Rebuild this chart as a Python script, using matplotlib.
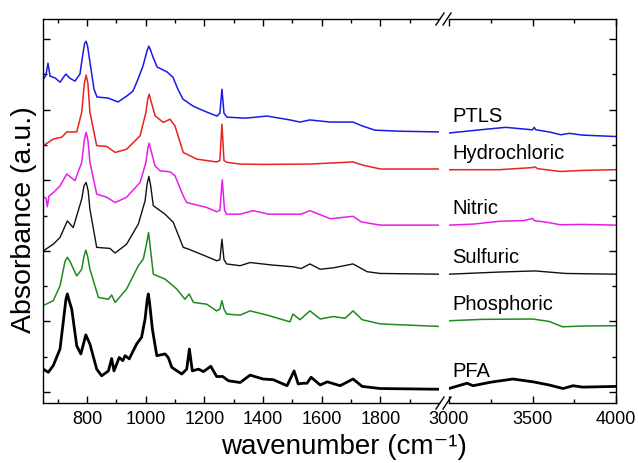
import numpy as np
import matplotlib
matplotlib.use("Agg")
from matplotlib import pyplot as plt
from matplotlib.lines import Line2D

plt.rcParams['font.family'] = ['Liberation Sans', 'DejaVu Sans']

# names / colours, bottom to top
names = ['PFA', 'Phosphoric', 'Sulfuric', 'Nitric', 'Hydrochloric', 'PTLS']
colors = ['black', '#1f8a1f', '#111111', '#e81ee8', '#e8231f', '#1a1ae6']
widths = [2.0, 1.1, 1.0, 1.1, 1.1, 1.1]

# --- spectra, left part (650-2000 cm-1) ---
ptls_wn = [650, 660, 667, 674, 691, 708, 728, 742, 759, 776, 786, 792, 797, 802, 810, 824, 834,
           872, 906, 936, 957, 974, 991, 1005, 1011, 1017, 1025, 1039, 1073, 1093, 1110, 1127,
           1162, 1209, 1243, 1253, 1260, 1267, 1277, 1339, 1414, 1492, 1526, 1560, 1629, 1707,
           1738, 1782, 1867, 2000]
ptls_abs = [8.85, 8.98, 9.32, 8.95, 8.90, 8.78, 9.01, 8.89, 8.81, 9.01, 9.58, 9.88, 9.94, 9.80,
            9.35, 8.58, 8.36, 8.33, 8.22, 8.39, 8.53, 8.87, 9.24, 9.68, 9.80, 9.68, 9.49, 9.21,
            9.07, 8.92, 8.58, 8.30, 8.10, 7.93, 7.82, 7.90, 8.58, 7.90, 7.79, 7.76, 7.82, 7.71,
            7.65, 7.71, 7.65, 7.65, 7.54, 7.42, 7.39, 7.37]

hcl_wn = [651, 685, 714, 731, 765, 782, 791, 797, 803, 810, 833, 867, 896, 935, 981, 1001, 1007,
          1012, 1018, 1032, 1060, 1083, 1100, 1128, 1174, 1242, 1253, 1260, 1267, 1276, 1322,
          1400, 1560, 1707, 1740, 1800, 2000]
hcl_abs = [6.98, 7.17, 7.22, 7.37, 7.37, 7.93, 8.75, 8.98, 8.75, 7.93, 6.98, 6.96, 6.79, 6.88,
           7.26, 7.93, 8.30, 8.44, 8.25, 7.83, 7.64, 7.73, 7.54, 6.79, 6.60, 6.52, 6.56, 7.59,
           6.56, 6.51, 6.46, 6.45, 6.46, 6.52, 6.43, 6.32, 6.32]

hno3_wn = [651, 660, 665, 670, 685, 708, 731, 759, 782, 791, 797, 803, 810, 833, 867, 896, 935,
           981, 1001, 1007, 1012, 1018, 1032, 1049, 1083, 1100, 1128, 1140, 1208, 1242, 1253,
           1261, 1269, 1276, 1322, 1366, 1420, 1530, 1560, 1630, 1707, 1735, 1800, 2000]
hno3_abs = [5.52, 5.50, 5.25, 5.55, 5.65, 5.84, 6.18, 5.99, 6.51, 7.15, 7.36, 7.15, 6.51, 5.61,
            5.52, 5.37, 5.52, 5.94, 6.51, 6.90, 7.05, 6.85, 6.41, 6.27, 6.24, 6.13, 5.56, 5.37,
            5.23, 5.11, 5.15, 6.01, 5.15, 5.04, 5.04, 5.14, 5.04, 5.04, 5.14, 4.91, 4.98, 4.82,
            4.73, 4.73]

h2so4_wn = [651, 685, 708, 733, 753, 782, 790, 797, 804, 810, 833, 878, 896, 935, 975, 998,
            1005, 1011, 1017, 1026, 1066, 1094, 1128, 1146, 1208, 1242, 1253, 1260, 1267, 1276,
            1322, 1356, 1430, 1502, 1530, 1560, 1595, 1640, 1707, 1755, 1800, 2000]
h2so4_abs = [4.00, 4.19, 4.38, 4.85, 4.66, 5.47, 5.85, 5.94, 5.70, 5.18, 4.10, 4.07, 3.94, 4.19,
             4.76, 5.42, 5.90, 6.11, 5.85, 5.28, 5.04, 4.81, 4.10, 4.05, 3.84, 3.72, 3.75, 4.33,
             3.75, 3.63, 3.58, 3.67, 3.60, 3.55, 3.50, 3.63, 3.48, 3.52, 3.63, 3.41, 3.36, 3.34]

h3po4_wn = [653, 685, 708, 725, 733, 742, 765, 782, 790, 796, 802, 810, 839, 873, 884, 896, 935,
            975, 992, 1003, 1010, 1017, 1026, 1066, 1106, 1134, 1148, 1163, 1208, 1242, 1253,
            1260, 1267, 1276, 1322, 1356, 1414, 1492, 1502, 1526, 1560, 1595, 1640, 1680, 1707,
            1738, 1800, 2000]
h3po4_abs = [2.46, 2.59, 3.01, 3.70, 3.82, 3.70, 3.29, 3.48, 3.85, 4.02, 3.85, 3.48, 2.68, 2.63,
             2.75, 2.54, 2.92, 3.58, 3.77, 4.20, 4.52, 4.00, 3.34, 3.20, 2.92, 2.63, 2.78, 2.54,
             2.49, 2.30, 2.35, 2.59, 2.35, 2.21, 2.18, 2.30, 2.18, 1.99, 2.21, 2.05, 2.30, 2.07,
             2.14, 2.09, 2.30, 2.05, 1.93, 1.86]

pfa_wn = [651, 668, 685, 708, 719, 728, 733, 738, 748, 765, 779, 796, 810, 833, 850, 873, 884,
          892, 910, 922, 930, 944, 969, 986, 998, 1005, 1009, 1013, 1023, 1038, 1066, 1077, 1089,
          1123, 1140, 1149, 1159, 1180, 1197, 1222, 1242, 1263, 1282, 1322, 1356, 1400, 1435,
          1482, 1506, 1520, 1537, 1550, 1564, 1595, 1619, 1663, 1707, 1738, 1800, 2000]
pfa_abs = [0.65, 0.56, 0.75, 1.22, 1.98, 2.62, 2.78, 2.62, 2.35, 1.31, 1.08, 1.62, 1.36, 0.65,
           0.46, 0.60, 0.95, 0.60, 0.98, 0.89, 1.03, 0.94, 1.36, 1.55, 2.07, 2.60, 2.78, 2.55,
           1.78, 1.03, 1.08, 0.98, 0.70, 0.51, 0.65, 1.22, 0.60, 0.65, 0.58, 0.73, 0.44, 0.44,
           0.32, 0.27, 0.48, 0.37, 0.35, 0.18, 0.60, 0.23, 0.25, 0.25, 0.42, 0.20, 0.29, 0.18,
           0.37, 0.16, 0.10, 0.08]

# --- spectra, right part (3000-4000 cm-1) ---
ptls_wn_r = [3000, 3228, 3340, 3500, 3510, 3520, 3600, 3670, 3720, 3800, 4000]
ptls_abs_r = [7.34, 7.45, 7.50, 7.43, 7.50, 7.43, 7.37, 7.29, 7.33, 7.28, 7.24]
hcl_wn_r = [3000, 3300, 3500, 3515, 3530, 3665, 3800, 4000]
hcl_abs_r = [6.30, 6.30, 6.36, 6.38, 6.33, 6.25, 6.28, 6.30]
hno3_wn_r = [3000, 3150, 3305, 3450, 3500, 3510, 3600, 3665, 3800, 4000]
hno3_abs_r = [4.73, 4.76, 4.84, 4.86, 4.92, 4.86, 4.80, 4.74, 4.75, 4.73]
h2so4_wn_r = [3000, 3300, 3500, 3520, 3700, 4000]
h2so4_abs_r = [3.34, 3.40, 3.43, 3.43, 3.36, 3.34]
h3po4_wn_r = [3000, 3200, 3500, 3600, 3680, 3800, 4000]
h3po4_abs_r = [2.02, 2.06, 2.07, 2.00, 1.85, 1.87, 1.88]
pfa_wn_r = [3000, 3108, 3144, 3250, 3383, 3503, 3600, 3683, 3743, 3800, 4000]
pfa_abs_r = [0.10, 0.25, 0.18, 0.28, 0.37, 0.29, 0.20, 0.10, 0.18, 0.14, 0.16]

left = [(pfa_wn, pfa_abs), (h3po4_wn, h3po4_abs), (h2so4_wn, h2so4_abs),
        (hno3_wn, hno3_abs), (hcl_wn, hcl_abs), (ptls_wn, ptls_abs)]
right = [(pfa_wn_r, pfa_abs_r), (h3po4_wn_r, h3po4_abs_r), (h2so4_wn_r, h2so4_abs_r),
         (hno3_wn_r, hno3_abs_r), (hcl_wn_r, hcl_abs_r), (ptls_wn_r, ptls_abs_r)]

W, H = 638, 464
fig = plt.figure(figsize=(W / 100, H / 100), dpi=100)
ax1 = fig.add_axes([43 / W, 60 / H, 396 / W, 384 / H])
ax2 = fig.add_axes([449 / W, 60 / H, 167 / W, 384 / H])

for i in range(len(names)):
    ax1.plot(left[i][0], left[i][1], color=colors[i], lw=widths[i])
    ax2.plot(right[i][0], right[i][1], color=colors[i], lw=widths[i])
    ax2.text(3018, right[i][1][0] + 0.5, names[i], fontsize=14.5, va='center', ha='left')

for ax in (ax1, ax2):
    ax.set_ylim(-0.31, 10.57)
    ax.set_yticks(np.arange(0, 11, 2))
    ax.set_yticks(np.arange(1, 11, 2), minor=True)
    ax.set_yticklabels([])
    ax.tick_params(which='both', direction='in', top=True, labelsize=13, pad=5, width=1)
    ax.tick_params(which='major', length=5)
    ax.tick_params(which='minor', length=3)
    for s in ax.spines.values():
        s.set_linewidth(1.0)

ax1.set_xlim(650, 2000)
ax1.set_xticks(np.arange(800, 1801, 200))
ax1.set_xticks(np.arange(700, 2000, 200), minor=True)
ax1.spines['right'].set_visible(False)
ax1.tick_params(which='both', right=False, left=True)

ax2.set_xlim(3000, 4000)
ax2.set_xticks([3000, 3500, 4000])
ax2.set_xticks([3250, 3750], minor=True)
ax2.spines['left'].set_visible(False)
ax2.tick_params(which='both', left=False, right=True)

# break marks
for yc in (20, 404):
    for xc in (440, 447):
        fig.add_artist(Line2D([(xc - 4) / W, (xc + 4) / W],
                              [(H - yc - 6) / H, (H - yc + 6) / H], color='black', lw=1.0))

fig.text(344 / W, (H - 447) / H, 'wavenumber (cm\u207b\u00b9)', fontsize=20, ha='center', va='center')
fig.text(24 / W, (H - 220) / H, 'Absorbance (a.u.)', fontsize=20.5, rotation=90,
         ha='center', va='center')

fig.savefig('out.png', dpi=100)
